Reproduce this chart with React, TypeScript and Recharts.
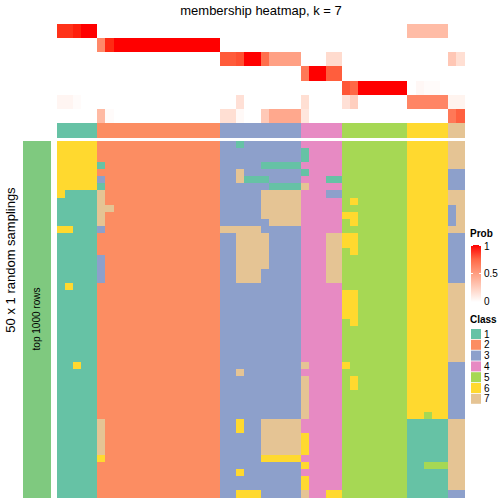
import React from "react";
import { BarChart, Bar, Cell, XAxis, YAxis } from "recharts";

// class palette (Set2-like) and labels
const CLASS_COLORS = ["#66C2A5", "#FC8D62", "#8DA0CB", "#E78AC3", "#A6D854", "#FFD92F", "#E5C494"];
const CLASS_LABELS = ["1", "2", "3", "4", "5", "6", "7"];

// consensus class of each of the 50 columns
const COLUMN_CLASS = "11111222222222222222333333333344444555555556666677";

// membership probabilities per column
const P1 = [0.93, 0.93, 0.97, 1, 1, 0, 0, 0, 0, 0, 0, 0, 0, 0, 0, 0, 0, 0, 0, 0, 0, 0, 0, 0, 0, 0, 0, 0, 0, 0, 0, 0, 0, 0, 0, 0, 0, 0, 0, 0, 0, 0, 0, 0.35, 0.35, 0.35, 0.35, 0.35, 0, 0];
const P2 = [0, 0, 0, 0, 0, 0.6, 0.95, 1, 1, 1, 1, 1, 1, 1, 1, 1, 1, 1, 1, 1, 0, 0, 0, 0, 0, 0, 0, 0, 0, 0, 0, 0, 0, 0, 0, 0, 0, 0, 0, 0, 0, 0, 0, 0, 0, 0, 0, 0, 0, 0];
const P3 = [0, 0, 0, 0, 0, 0, 0, 0, 0, 0, 0, 0, 0, 0, 0, 0, 0, 0, 0, 0, 0.8, 0.8, 0.84, 1, 1, 0.72, 0.49, 0.49, 0.49, 0.49, 0, 0, 0, 0.19, 0.19, 0, 0, 0, 0, 0, 0, 0, 0, 0, 0, 0, 0, 0, 0.29, 0.17];
const P4 = [0, 0, 0, 0, 0, 0, 0, 0, 0, 0, 0, 0, 0, 0, 0, 0, 0, 0, 0, 0, 0, 0, 0, 0, 0, 0, 0, 0, 0, 0, 0.68, 1, 1, 0.79, 0.79, 0, 0, 0, 0, 0, 0, 0, 0, 0, 0, 0, 0, 0, 0, 0];
const P5 = [0, 0, 0, 0, 0, 0, 0, 0, 0, 0, 0, 0, 0, 0, 0, 0, 0, 0, 0, 0, 0, 0, 0, 0, 0, 0, 0, 0, 0, 0, 0, 0, 0, 0, 0, 0.82, 0.75, 1, 1, 1, 1, 1, 1, 0, 0.04, 0.02, 0.02, 0, 0, 0];
const P6 = [0.05, 0.05, 0.02, 0, 0, 0, 0, 0, 0, 0, 0, 0, 0, 0, 0, 0, 0, 0, 0, 0, 0, 0, 0.16, 0, 0, 0, 0, 0, 0, 0, 0.17, 0, 0, 0, 0, 0.16, 0.25, 0, 0, 0, 0, 0, 0, 0.62, 0.62, 0.62, 0.62, 0.62, 0.06, 0.06];
const P7 = [0, 0, 0, 0, 0, 0.36, 0.02, 0, 0, 0, 0, 0, 0, 0, 0, 0, 0, 0, 0, 0, 0.17, 0.17, 0.03, 0, 0, 0.28, 0.45, 0.45, 0.45, 0.45, 0.13, 0, 0, 0, 0, 0, 0, 0, 0, 0, 0, 0, 0, 0, 0, 0, 0, 0, 0.68, 0.78];
const PROB_ROWS = [P1, P2, P3, P4, P5, P6, P7];
const TOP_LABELS = ["p1", "p2", "p3", "p4", "p5", "p6", "p7", "Class"];

// class found in each of the 50 random samplings (one string per sampling, one digit per column)
const SAMPLINGS = [
  "66666222222222222222331333333344444555555556666677",
  "66666222222222222222333333333314444555555556666677",
  "66666222222222222222333333333314444555555556666677",
  "66666122222222222222333331111144444555555556666677",
  "66666222222222222222337333333314444555555556666633",
  "66666322222222222222337111333344411555555556666633",
  "66666122222222222222333333111174444555555556666633",
  "61111722222222222222333337777744433555555556666677",
  "11111722222222222222333337777744444565555556666677",
  "11111772222222222222333337777744444555555556666637",
  "11111722222222222222333337777744444665555556666637",
  "11111722222222222222333333777744444565555556666637",
  "66111322222222222222777773333344444555555556666677",
  "11111222222222222222337777333344477665555556666633",
  "11111222222222222222337777333344477665555556666633",
  "11111222222222222222337777333344477565555556666633",
  "11111322222222222222337777333344477555555556666633",
  "11111322222222222222337777333344477555555556666633",
  "11111322222222222222337773333344477555555556666633",
  "11111322222222222222337773333344477555555556666633",
  "16111222222222222222333333333344444555555556666677",
  "11111222222222222222333333333344444665555556666677",
  "11111222222222222222333333333344444665555556666677",
  "11111222222222222222333333333344444665555556666677",
  "11111222222222222222333333333344444665555556666677",
  "11111222222222222222333333333344444565555556666677",
  "11111222222222222222333333333344444555555556666677",
  "11111222222222222222333333333344444555555556666677",
  "11111222222222222222333333333344444555555556666677",
  "11111222222222222222333333333344444555555556666677",
  "11111222222222222222333333333344444555555556666677",
  "11611222222222222222333333333374444655555556666633",
  "11111222222222222222337333333344444555555556666633",
  "11111222222222222222333333333374444565555556666633",
  "11111222222222222222333333333374444565555556666633",
  "11111222222222222222333333333374444555555556666633",
  "11111222222222222222333333333374444555555556666633",
  "11111222222222222222333333333374444555555556666633",
  "11111222222222222222333333333374444555555556656633",
  "11111722222222222222336337777744444555555551111177",
  "11111722222222222222336337777744444555555551111177",
  "11111722222222222222333337777764444555555551111177",
  "11111722222222222222333337777764444555555551111177",
  "11111722222222222222333337777764444555555551111177",
  "11111622222222222222333336666644444555555551111177",
  "11111222222222222222333333333364444555555551155577",
  "11111222222222222222336333333344444555555551111177",
  "11111222222222222222333333333364444555555551111177",
  "11111222222222222222333333333364444555555551111177",
  "11111222222222222222336663333374466555555551111133",
];

const FONT = "'Liberation Sans', Arial, Helvetica, sans-serif";

// white -> red interpolated in CIE Lab
function probColor(p: number) {
  const L = 100 - (100 - 53.24) * p;
  const A = 80.09 * p;
  const B = 67.2 * p;
  const fy = (L + 16) / 116;
  const fx = fy + A / 500;
  const fz = fy - B / 200;
  const inv = (t: number) => (t ** 3 > 0.008856 ? t ** 3 : (t - 16 / 116) / 7.787);
  const X = 0.95047 * inv(fx);
  const Y = inv(fy);
  const Z = 1.08883 * inv(fz);
  const lin = [
    3.2406 * X - 1.5372 * Y - 0.4986 * Z,
    -0.9689 * X + 1.8758 * Y + 0.0415 * Z,
    0.0557 * X - 0.204 * Y + 1.057 * Z,
  ];
  const rgb = lin.map((c) => {
    const v = Math.min(1, Math.max(0, c));
    const s = v <= 0.0031308 ? 12.92 * v : 1.055 * v ** (1 / 2.4) - 0.055;
    return Math.round(s * 255);
  });
  return `rgb(${rgb.join(",")})`;
}

const classColor = (ch: string) => CLASS_COLORS[Number(ch) - 1];

const topData = COLUMN_CLASS.split("").map((_, c) => {
  const d: Record<string, number> = { col: c };
  TOP_LABELS.forEach((_, r) => (d[`t${r}`] = 1));
  return d;
});

const bodyData = COLUMN_CLASS.split("").map((_, c) => {
  const d: Record<string, number> = { col: c };
  SAMPLINGS.forEach((_, r) => (d[`r${r}`] = 1));
  return d;
});

export default function App() {
  const gradStops = [0, 0.25, 0.5, 0.75, 1];
  return (
    <div style={{ position: "fixed", left: 0, top: 0, width: 504, height: 504, background: "#fff", fontFamily: FONT }}>
      <style>{`.hm .recharts-rectangle { shape-rendering: crispEdges; }`}</style>
      <div style={{ position: "absolute", left: 0, width: 522, top: 3, textAlign: "center", fontSize: 13 }}>
        membership heatmap, k = 7
      </div>

      <div className="hm" style={{ position: "absolute", left: 0, top: 0 }}>
        <BarChart
          width={504}
          height={138}
          data={topData}
          margin={{ top: 24, right: 0, bottom: 0, left: 57 }}
          barCategoryGap={0}
          barGap={0}
        >
          <XAxis dataKey="col" hide />
          <YAxis
            yAxisId="l"
            type="number"
            domain={[0, 8]}
            reversed
            hide
          />
          <YAxis
            yAxisId="r"
            orientation="right"
            type="number"
            domain={[0, 8]}
            reversed
            width={39}
            ticks={[0.5, 1.5, 2.5, 3.5, 4.5, 5.5, 6.5, 7.5]}
            tickFormatter={(v: number) => TOP_LABELS[Math.floor(v)]}
            axisLine={false}
            tickLine={false}
            tickSize={0}
            tickMargin={3}
            interval={0}
            tick={{ fill: "#000", fontSize: 12, fontFamily: FONT }}
          />
          {TOP_LABELS.map((_, r) => (
            <Bar key={r} dataKey={`t${r}`} stackId="s" yAxisId="l" isAnimationActive={false}>
              {COLUMN_CLASS.split("").map((ch, c) => {
                const fill = r < 7 ? probColor(PROB_ROWS[r][c]) : classColor(ch);
                return <Cell key={c} fill={fill} stroke={fill} strokeWidth={1} />;
              })}
            </Bar>
          ))}
        </BarChart>
      </div>

      <div className="hm" style={{ position: "absolute", left: 57, top: 141 }}>
        <BarChart
          width={408}
          height={357}
          data={bodyData}
          margin={{ top: 0, right: 0, bottom: 0, left: 0 }}
          barCategoryGap={0}
          barGap={0}
        >
          <XAxis dataKey="col" hide />
          <YAxis type="number" domain={[0, 50]} reversed hide />
          {SAMPLINGS.map((row, r) => (
            <Bar key={r} dataKey={`r${r}`} stackId="s" isAnimationActive={false}>
              {row.split("").map((ch, c) => (
                <Cell key={c} fill={classColor(ch)} stroke={classColor(ch)} strokeWidth={1} />
              ))}
            </Bar>
          ))}
        </BarChart>
      </div>

      <svg width={504} height={504} style={{ position: "absolute", left: 0, top: 0, pointerEvents: "none" }}>
        <defs>
          <linearGradient id="prob" x1="0" y1="1" x2="0" y2="0">
            {gradStops.map((p) => (
              <stop key={p} offset={p} stopColor={probColor(p)} />
            ))}
          </linearGradient>
        </defs>
        {/* row annotation on the left */}
        <rect x={23} y={141} width={28} height={357} fill="#7FC97F" />
        <text
          transform="translate(40,319) rotate(-90)"
          textAnchor="middle"
          fontSize={10}
          fontFamily={FONT}
        >
          top 1000 rows
        </text>
        <text
          transform="translate(15,260) rotate(-90)"
          textAnchor="middle"
          fontSize={13}
          fontFamily={FONT}
        >
          50 x 1 random samplings
        </text>

        {/* Prob legend */}
        <text x={470} y={237} fontSize={10} fontWeight="bold" fontFamily={FONT}>Prob</text>
        <rect x={471} y={245} width={10} height={57} fill="url(#prob)" />
        <line x1={471} x2={473} y1={245.5} y2={245.5} stroke="#fff" />
        <line x1={479} x2={481} y1={245.5} y2={245.5} stroke="#fff" />
        <line x1={471} x2={473} y1={273.5} y2={273.5} stroke="#fff" />
        <line x1={479} x2={481} y1={273.5} y2={273.5} stroke="#fff" />
        <text x={484} y={250} fontSize={10} fontFamily={FONT}>1</text>
        <text x={484} y={277} fontSize={10} fontFamily={FONT}>0.5</text>
        <text x={484} y={305} fontSize={10} fontFamily={FONT}>0</text>

        {/* Class legend */}
        <text x={470} y={323} fontSize={10} fontWeight="bold" fontFamily={FONT}>Class</text>
        {CLASS_LABELS.map((lab, i) => (
          <g key={lab}>
            <rect x={471} y={329 + i * 10.8} width={10} height={10} fill={CLASS_COLORS[i]} />
            <text x={484} y={337.5 + i * 10.8} fontSize={10} fontFamily={FONT}>{lab}</text>
          </g>
        ))}
      </svg>
    </div>
  );
}
